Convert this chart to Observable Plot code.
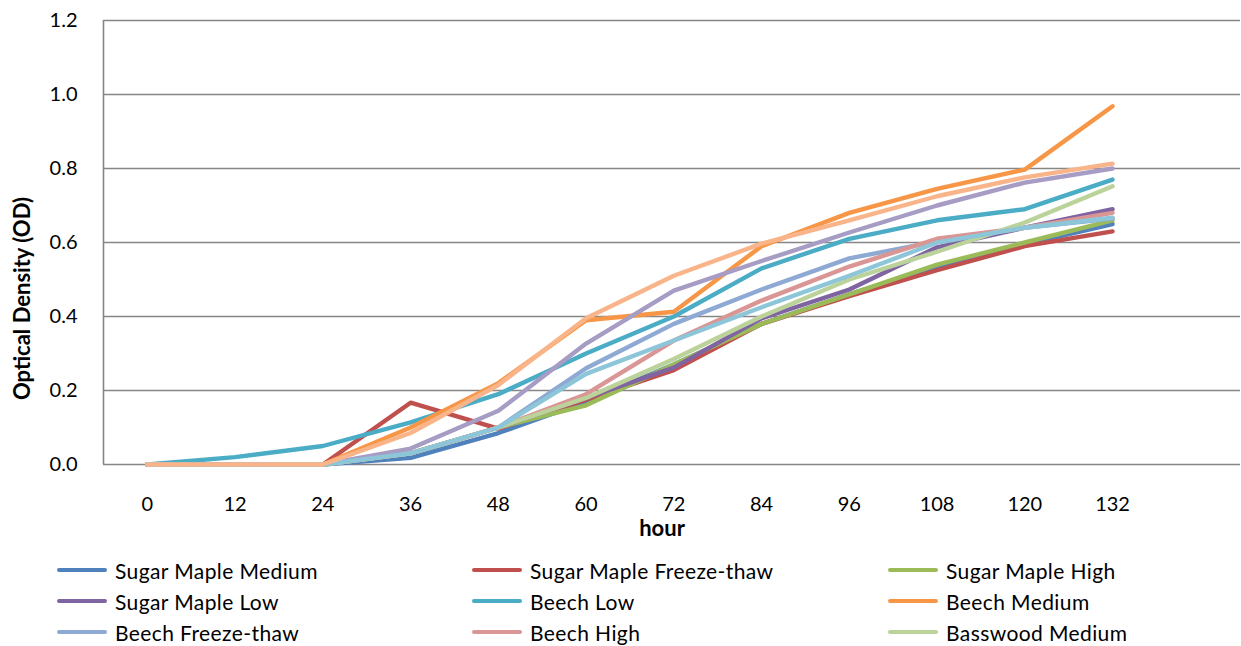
<!DOCTYPE html>
<html><head><meta charset="utf-8">
<script src="https://cdn.jsdelivr.net/npm/d3@7"></script>
<script src="https://cdn.jsdelivr.net/npm/@observablehq/plot@0.6"></script>
<style>
body{margin:0;background:#fff;font-family:Lato,"Open Sans",sans-serif;}
#wrap{position:relative;width:1241px;height:646px;overflow:hidden;}
#legend{position:absolute;left:0;top:0;width:1241px;height:646px;pointer-events:none;}
.item{position:absolute;display:flex;align-items:center;font-size:21px;letter-spacing:0.4px;height:30px;color:#000;white-space:nowrap;}
.sw{width:50px;height:4px;margin-right:8px;border-radius:2px;}
</style></head><body><div id="wrap"><div id="chart"></div><div id="legend"></div></div>
<script>
const hours = [0, 12, 24, 36, 48, 60, 72, 84, 96, 108, 120, 132];
const yTicks = [0, 0.2, 0.4, 0.6, 0.8, 1.0, 1.2];

const sugarMapleMedium     = [0, 0, 0, 0.018, 0.085, 0.17, 0.27, 0.38, 0.46, 0.535, 0.595, 0.65];
const sugarMapleFreezeThaw = [0, 0, 0, 0.167, 0.097, 0.175, 0.255, 0.38, 0.455, 0.525, 0.59, 0.63];
const sugarMapleHigh       = [0, 0, 0, 0.03, 0.10, 0.16, 0.27, 0.38, 0.46, 0.54, 0.60, 0.66];
const sugarMapleLow        = [0, 0, 0, 0.03, 0.10, 0.18, 0.262, 0.395, 0.473, 0.587, 0.64, 0.69];
const beechLow             = [0, 0.02, 0.05, 0.114, 0.19, 0.30, 0.40, 0.53, 0.61, 0.66, 0.69, 0.77];
const beechMedium          = [0, 0, 0, 0.10, 0.22, 0.39, 0.413, 0.59, 0.68, 0.745, 0.797, 0.968];
const beechFreezeThaw      = [0, 0, 0, 0.03, 0.10, 0.26, 0.38, 0.473, 0.557, 0.603, 0.64, 0.665];
const beechHigh            = [0, 0, 0, 0.03, 0.10, 0.19, 0.335, 0.443, 0.535, 0.61, 0.64, 0.68];
const basswoodMedium       = [0, 0, 0, 0.03, 0.10, 0.18, 0.285, 0.40, 0.50, 0.575, 0.654, 0.752];
const basswoodLow          = [0, 0, 0, 0.043, 0.145, 0.327, 0.47, 0.55, 0.627, 0.70, 0.762, 0.80];
const basswoodFreezeThaw   = [0, 0, 0, 0.03, 0.10, 0.245, 0.335, 0.425, 0.51, 0.60, 0.64, 0.667];
const basswoodHigh         = [0, 0, 0, 0.085, 0.215, 0.395, 0.51, 0.597, 0.66, 0.725, 0.776, 0.813];

const seriesNames = ["Sugar Maple Medium","Sugar Maple Freeze-thaw","Sugar Maple High","Sugar Maple Low","Beech Low","Beech Medium","Beech Freeze-thaw","Beech High","Basswood Medium","Basswood Low","Basswood Freeze-thaw","Basswood High"];
const seriesValues = [sugarMapleMedium,sugarMapleFreezeThaw,sugarMapleHigh,sugarMapleLow,beechLow,beechMedium,beechFreezeThaw,beechHigh,basswoodMedium,basswoodLow,basswoodFreezeThaw,basswoodHigh];
const seriesColors = ["#4F81BD","#C0504D","#9BBB59","#8064A2","#4BACC6","#F79646","#8EA9D3","#D99694","#BBD39A","#A69CC4","#8DC6D8","#F9B48A"];
const legendShown = 9;

const rows = [];
seriesNames.forEach((name, i) => {
  hours.forEach((h, j) => rows.push({series: name, hour: h, od: seriesValues[i][j]}));
});

const fontFam = 'Lato, "Open Sans", sans-serif';
const chart = Plot.plot({
  width: 1241,
  height: 540,
  marginLeft: 103,
  marginRight: 1,
  marginTop: 20,
  marginBottom: 76,
  style: {fontFamily: fontFam, fontSize: "19px", background: "#fff", color: "#000"},
  x: {type: "linear", domain: [-6, 149.5], label: null},
  y: {domain: [0, 1.2], label: null},
  color: {domain: seriesNames, range: seriesColors},
  marks: [
    Plot.ruleY(yTicks, {stroke: "#868686", strokeWidth: 1.6}),
    Plot.ruleX([-6], {stroke: "#868686", strokeWidth: 1.6}),
    Plot.axisY({ticks: yTicks, tickSize: 0, tickPadding: 26, tickFormat: d => d.toFixed(1), fontSize: 20, label: null}),
    Plot.axisX({ticks: hours, tickSize: 0, tickPadding: 32, tickFormat: d => String(d), fontSize: 20, label: null}),
    Plot.line(rows, {x: "hour", y: "od", z: "series", stroke: "series", strokeWidth: 4.4, strokeLinejoin: "round", strokeLinecap: "round"}),
    Plot.text(["hour"], {frameAnchor: "bottom", textAnchor: "middle", dx: -10, dy: 71, fontWeight: "bold", fontSize: 22, text: d => d}),
    Plot.text(["Optical Density (OD)"], {frameAnchor: "left", textAnchor: "middle", dx: -81, dy: 56, rotate: -90, fontWeight: "bold", fontSize: 22, text: d => d})
  ]
});
document.getElementById("chart").append(chart);

const leg = document.getElementById("legend");
const colX = [57, 472, 888];
const rowY = [555, 586, 617];
for (let i = 0; i < legendShown; i++) {
  const el = document.createElement("div");
  el.className = "item";
  el.style.left = colX[i % 3] + "px";
  el.style.top = rowY[Math.floor(i / 3)] + "px";
  const sw = document.createElement("span");
  sw.className = "sw";
  sw.style.background = seriesColors[i];
  const tx = document.createElement("span");
  tx.textContent = seriesNames[i];
  el.append(sw, tx);
  leg.append(el);
}
</script></body></html>
